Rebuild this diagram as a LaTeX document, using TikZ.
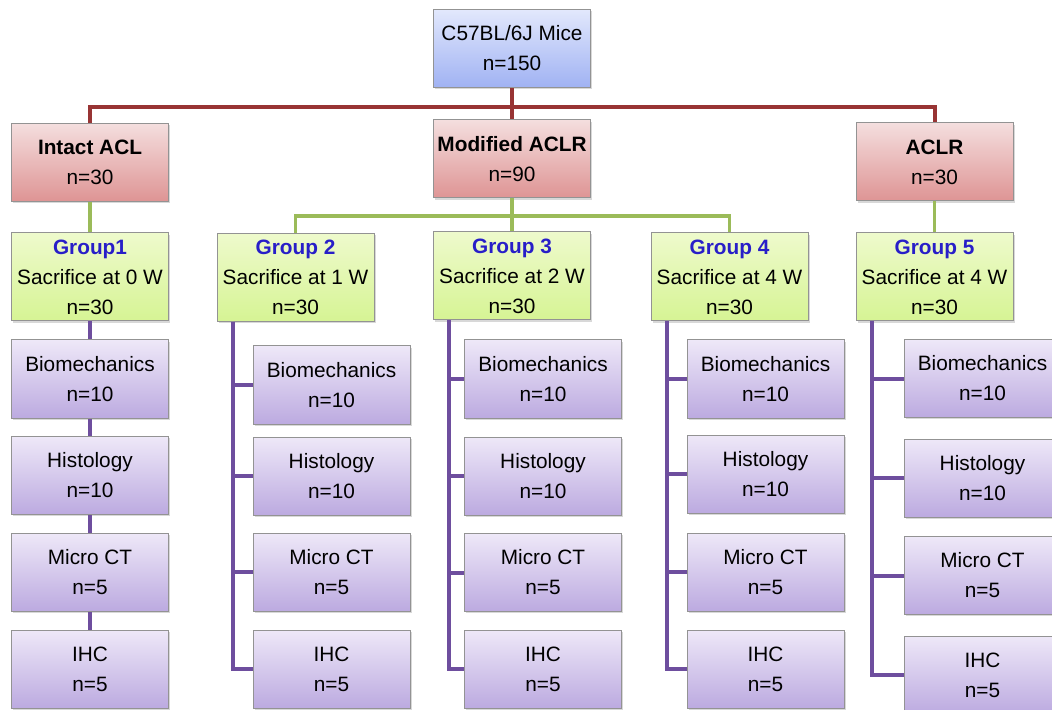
\documentclass[tikz,border=0pt]{standalone}
\usepackage{fontspec}
\setmainfont{Liberation Sans}
\usetikzlibrary{shadows}

\definecolor{miceT}{RGB}{226,232,252}
\definecolor{miceB}{RGB}{160,178,243}
\definecolor{armT}{RGB}{244,222,222}
\definecolor{armB}{RGB}{222,148,148}
\definecolor{grpT}{RGB}{238,250,204}
\definecolor{grpB}{RGB}{214,244,148}
\definecolor{testT}{RGB}{238,232,248}
\definecolor{testB}{RGB}{188,170,224}
\definecolor{redline}{RGB}{152,52,52}
\definecolor{grnline}{RGB}{155,187,89}
\definecolor{purline}{RGB}{110,78,158}
\definecolor{grpblue}{RGB}{40,30,200}
\newcommand{\grpname}[1]{\textcolor{grpblue}{\textbf{#1}}}

\begin{document}
\begin{tikzpicture}[x=0.5pt,y=-0.5pt,
  box/.style={draw=gray!85,line width=0.5pt,align=center,inner sep=1pt,
    minimum width=78.5pt,minimum height=39pt,font=\fontsize{10.4}{15}\selectfont,
    drop shadow={shadow xshift=0.8pt,shadow yshift=-0.8pt,opacity=0.3}},
  mice/.style={box,top color=miceT,bottom color=miceB},
  arm/.style={box,top color=armT,bottom color=armB},
  grp/.style={box,minimum height=44pt,top color=grpT,bottom color=grpB},
  test/.style={box,top color=testT,bottom color=testB},
  redln/.style={draw=redline,line width=2pt},
  grnln/.style={draw=grnline,line width=1.6pt},
  purln/.style={draw=purline,line width=2pt}]
\useasboundingbox (0,0) rectangle (1052,710);
\fill[white] (0,0) rectangle (1052,710);
\clip (0,0) rectangle (1052,710);

\node[mice] (mice) at (512,48.5) {C57BL/6J Mice\\n=150};

\node[arm] (intact) at (90,162.5) {\textbf{Intact ACL}\\n=30};
\node[arm] (modified) at (512,159) {\textbf{Modified ACLR}\\n=90};
\node[arm] (aclr) at (934.5,162) {\textbf{ACLR}\\n=30};

\node[grp] (g1) at (90,277) {\grpname{Group1}\\Sacrifice at 0 W\\n=30};
\node[grp] (g2) at (295.5,277.5) {\grpname{Group 2}\\Sacrifice at 1 W\\n=30};
\node[grp] (g3) at (512,276) {\grpname{Group 3}\\Sacrifice at 2 W\\n=30};
\node[grp] (g4) at (729.5,277) {\grpname{Group 4}\\Sacrifice at 4 W\\n=30};
\node[grp] (g5) at (934.5,277) {\grpname{Group 5}\\Sacrifice at 4 W\\n=30};

\node[test] (g1bio) at (90,379) {Biomechanics\\n=10};
\node[test] (g1his) at (90,475.5) {Histology\\n=10};
\node[test] (g1mct) at (90,572) {Micro CT\\n=5};
\node[test] (g1ihc) at (90,669) {IHC\\n=5};

\node[test] (g2bio) at (331.5,385) {Biomechanics\\n=10};
\node[test] (g2his) at (331.5,476) {Histology\\n=10};
\node[test] (g2mct) at (331.5,572) {Micro CT\\n=5};
\node[test] (g2ihc) at (331.5,669) {IHC\\n=5};

\node[test] (g3bio) at (543,379) {Biomechanics\\n=10};
\node[test] (g3his) at (543,476) {Histology\\n=10};
\node[test] (g3mct) at (543,572.5) {Micro CT\\n=5};
\node[test] (g3ihc) at (543,669) {IHC\\n=5};

\node[test] (g4bio) at (765.5,379) {Biomechanics\\n=10};
\node[test] (g4his) at (765.5,474) {Histology\\n=10};
\node[test] (g4mct) at (765.5,572) {Micro CT\\n=5};
\node[test] (g4ihc) at (765.5,669) {IHC\\n=5};

\node[test] (g5bio) at (982.5,378.5) {Biomechanics\\n=10};
\node[test] (g5his) at (982.5,478) {Histology\\n=10};
\node[test] (g5mct) at (982.5,575.5) {Micro CT\\n=5};
\node[test] (g5ihc) at (982.5,675) {IHC\\n=5};

\coordinate (rsplit) at (512,107);
\draw[redln] (mice) -- (modified);
\draw[redln] (intact.north) |- (rsplit) -| (aclr.north);

\coordinate (gsplit) at (512,216);
\draw[grnln] (intact) -- (g1);
\draw[grnln] (aclr) -- (g5);
\draw[grnln] (modified) -- (g3);
\draw[grnln] (g2.north) |- (gsplit) -| (g4.north);

\draw[purln] (g1) -- (g1bio);
\draw[purln] (g1bio) -- (g1his);
\draw[purln] (g1his) -- (g1mct);
\draw[purln] (g1mct) -- (g1ihc);

\draw[purln] ([xshift=8pt]g2.south west) |- (g2bio.west);
\draw[purln] ([xshift=8pt]g2.south west) |- (g2his.west);
\draw[purln] ([xshift=8pt]g2.south west) |- (g2mct.west);
\draw[purln] ([xshift=8pt]g2.south west) |- (g2ihc.west);

\draw[purln] ([xshift=8pt]g3.south west) |- (g3bio.west);
\draw[purln] ([xshift=8pt]g3.south west) |- (g3his.west);
\draw[purln] ([xshift=8pt]g3.south west) |- (g3mct.west);
\draw[purln] ([xshift=8pt]g3.south west) |- (g3ihc.west);

\draw[purln] ([xshift=8pt]g4.south west) |- (g4bio.west);
\draw[purln] ([xshift=8pt]g4.south west) |- (g4his.west);
\draw[purln] ([xshift=8pt]g4.south west) |- (g4mct.west);
\draw[purln] ([xshift=8pt]g4.south west) |- (g4ihc.west);

\draw[purln] ([xshift=8pt]g5.south west) |- (g5bio.west);
\draw[purln] ([xshift=8pt]g5.south west) |- (g5his.west);
\draw[purln] ([xshift=8pt]g5.south west) |- (g5mct.west);
\draw[purln] ([xshift=8pt]g5.south west) |- (g5ihc.west);
\end{tikzpicture}
\end{document}
